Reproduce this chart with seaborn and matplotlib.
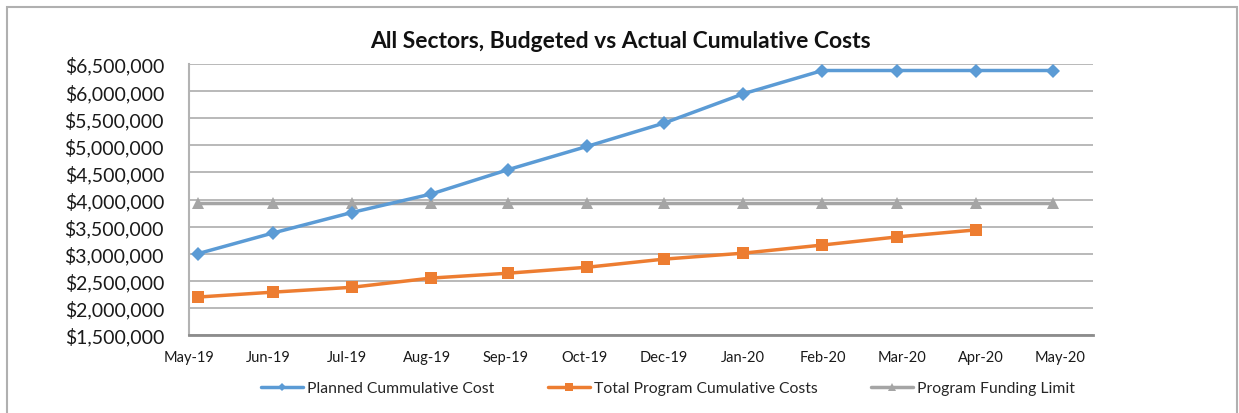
import seaborn as sns
import matplotlib.pyplot as plt
import matplotlib.ticker as mticker
from matplotlib.patches import Rectangle
import pandas as pd

# values
point_dates = ['2019-05-05', '2019-06-08', '2019-07-14', '2019-08-19', '2019-09-23', '2019-10-29',
               '2019-12-03', '2020-01-08', '2020-02-13', '2020-03-18', '2020-04-23', '2020-05-28']
planned = [3000000, 3380000, 3760000, 4100000, 4550000, 4980000,
           5410000, 5950000, 6380000, 6380000, 6380000, 6380000]
actual = [2200000, 2290000, 2380000, 2550000, 2640000, 2750000,
          2900000, 3010000, 3160000, 3310000, 3440000]
funding_limit = [3930000, 3930000, 3930000, 3930000, 3930000, 3930000,
                 3930000, 3930000, 3930000, 3930000, 3930000, 3930000]
tick_dates = ['2019-05-01', '2019-06-06', '2019-07-12', '2019-08-17', '2019-09-22', '2019-10-28',
              '2019-12-03', '2020-01-08', '2020-02-13', '2020-03-20', '2020-04-25', '2020-05-31']
tick_labels = ['May-19', 'Jun-19', 'Jul-19', 'Aug-19', 'Sep-19', 'Oct-19',
               'Dec-19', 'Jan-20', 'Feb-20', 'Mar-20', 'Apr-20', 'May-20']

x = pd.to_datetime(point_dates)
ticks = pd.to_datetime(tick_dates)

sns.set_style('white')
plt.rcParams['font.family'] = ['Lato', 'DejaVu Sans']

fig = plt.figure(figsize=(12.39, 4.14), dpi=100)
ax = fig.add_axes([189 / 1239, 1 - 336 / 414, (1093 - 189) / 1239, (336 - 65) / 414])

blue, orange, grey = '#5B9BD5', '#ED7D31', '#A5A5A5'

sns.lineplot(x=x, y=planned, ax=ax, color=blue, lw=2.5, marker='D', markersize=7,
             markeredgewidth=0, label='Planned Cummulative Cost', zorder=4)
sns.lineplot(x=x[:len(actual)], y=actual, ax=ax, color=orange, lw=2.5, marker='s', markersize=9,
             markeredgewidth=0, label='Total Program Cumulative Costs', zorder=4)
sns.lineplot(x=x, y=funding_limit, ax=ax, color=grey, lw=2.5, marker='^', markersize=9,
             markeredgewidth=0, label='Program Funding Limit', zorder=3)

ax.set_ylim(1500000, 6500000)
ax.yaxis.set_major_locator(mticker.MultipleLocator(500000))
ax.yaxis.set_major_formatter(mticker.StrMethodFormatter('${x:,.0f}'))
ax.set_xlim(pd.Timestamp('2019-05-01'), pd.Timestamp('2020-06-15'))
ax.set_xticks(ticks, tick_labels)
ax.set_xlabel('')
ax.set_ylabel('')

ax.grid(axis='y', color='#b3b3b3', lw=1.3)
ax.grid(axis='x', visible=False)
for side in ['top', 'right']:
    ax.spines[side].set_visible(False)
ax.spines['left'].set_color('#b3b3b3')
ax.spines['left'].set_linewidth(1.5)
ax.spines['bottom'].set_color('#8c8c8c')
ax.spines['bottom'].set_linewidth(2)
ax.tick_params(axis='y', length=0, labelsize=14, labelcolor='#1a1a1a', pad=18)
ax.tick_params(axis='x', length=5, width=1.2, color='#8c8c8c', direction='out',
               labelsize=10.5, labelcolor='#1a1a1a', pad=6)

ax.get_legend().remove()
handles, labels = ax.get_legend_handles_labels()
fig.legend(handles, labels, loc='center', bbox_to_anchor=(668 / 1239, 1 - 389 / 414), ncol=3,
           frameon=False, fontsize=11.3, handlelength=2.7, columnspacing=3.4, markerscale=0.6,
           handletextpad=0.25)

fig.text(620 / 1239, 1 - 41 / 414, 'All Sectors, Budgeted vs Actual Cumulative Costs',
         ha='center', va='center', fontsize=16.5, fontweight='bold', color='#111111')

# outer chart frame
fig.patches.append(Rectangle((7 / 1239, -0.05), (1237 - 7) / 1239, 1.05 - 8 / 414,
                             transform=fig.transFigure, fill=False, ec='#b0b0b0', lw=1.5))

fig.savefig('out.png', dpi=100)
